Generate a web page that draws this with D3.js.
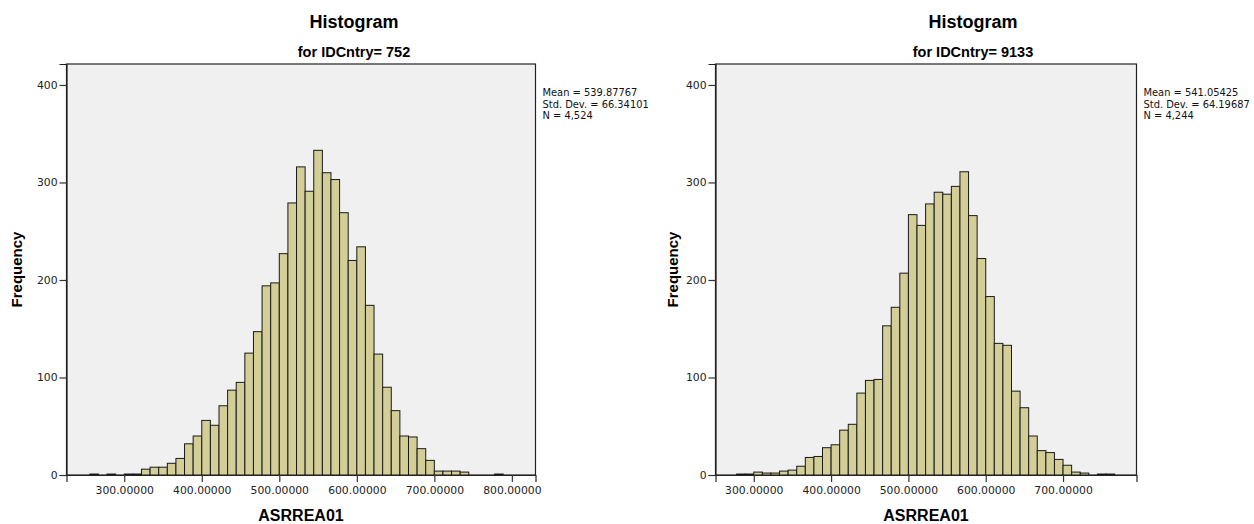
<!DOCTYPE html>
<html>
<head>
<meta charset="utf-8">
<script src="https://cdn.jsdelivr.net/npm/d3@7"></script>
<style>
  body { margin: 0; background: #fff; }
  svg { display: block; }
</style>
</head>
<body>
<svg id="canvas" width="1254" height="524"></svg>
<script>
// histogram bins: edge = BIN_ORIGIN + k * BIN_WIDTH
BIN_ORIGIN = 400;
BIN_WIDTH = 100 / 9;

// IDCntry = 752
firstBin752 = -13;
counts752 = [1, 0, 1, 0, 1, 1, 6, 8, 8, 12, 17, 32, 40,
  56, 51, 71, 87, 95, 125, 147, 194, 197, 227,
  279, 316, 291, 333, 310, 303, 269, 220, 234, 174,
  124, 90, 66, 40, 39, 27, 15, 4, 4, 4, 3, 0, 0, 0, 1];
stats752 = ["Mean = 539.87767", "Std. Dev. = 66.34101", "N = 4,524"];

// IDCntry = 9133
firstBin9133 = -11;
counts9133 = [1, 1, 3, 2, 2, 4, 5, 9, 18, 19, 28,
  31, 46, 52, 84, 97, 98, 153, 172, 207, 267,
  256, 278, 290, 288, 296, 311, 266, 222, 183, 135,
  133, 86, 69, 40, 25, 23, 16, 10, 3, 2, 0, 1, 1];
stats9133 = ["Mean = 541.05425", "Std. Dev. = 64.19687", "N = 4,244"];

xTicks752 = [300, 400, 500, 600, 700, 800];
xTicks9133 = [300, 400, 500, 600, 700];
yTicks = [0, 100, 200, 300, 400];

BAR_FILL = "#d3ce97";
PLOT_BG = "#f0f0f0";
BOLD = "'Liberation Sans', Arial, sans-serif";
SMALL = "'DejaVu Sans', sans-serif";

svg = d3.select("#canvas");

function makeBins(first, counts) {
  return counts.map(function (c, i) {
    var k = first + i;
    return { x0: BIN_ORIGIN + k * BIN_WIDTH, x1: BIN_ORIGIN + (k + 1) * BIN_WIDTH, n: c };
  });
}

function drawHistogram(opt) {
  var top = 64, bottom = 475;
  var x = d3.scaleLinear().domain(opt.xDomain).range(opt.xRange);
  var y = d3.scaleLinear().domain([0, 421.5]).range([bottom, top]);
  var g = svg.append("g").attr("clip-path", "url(#" + opt.clip + ")");

  svg.append("clipPath").attr("id", opt.clip)
    .append("rect").attr("x", opt.clipX[0]).attr("y", 0)
    .attr("width", opt.clipX[1] - opt.clipX[0]).attr("height", 524);

  // titles
  g.append("text").attr("x", opt.titleX).attr("y", 28)
    .attr("text-anchor", "middle").style("font-family", BOLD)
    .style("font-weight", "bold").style("font-size", "18px").text("Histogram");
  g.append("text").attr("x", opt.titleX).attr("y", 57)
    .attr("text-anchor", "middle").style("font-family", BOLD)
    .style("font-weight", "bold").style("font-size", "14.5px").text(opt.subtitle);

  // plot frame
  g.append("rect")
    .attr("x", opt.xRange[0]).attr("y", top)
    .attr("width", opt.xRange[1] - opt.xRange[0]).attr("height", bottom - top)
    .attr("fill", PLOT_BG).attr("stroke", "#222").attr("stroke-width", 1.2);

  var bins = makeBins(opt.first, opt.counts).filter(function (d) { return d.n > 0; });
  g.selectAll("rect.bar").data(bins).enter().append("rect")
    .attr("class", "bar")
    .attr("x", function (d) { return x(d.x0); })
    .attr("width", function (d) { return x(d.x1) - x(d.x0); })
    .attr("y", function (d) { return y(d.n); })
    .attr("height", function (d) { return y(0) - y(d.n); })
    .attr("fill", BAR_FILL).attr("stroke", "#1a1a1a").attr("stroke-width", 1);

  // axes
  var ya = g.append("g").attr("transform", "translate(" + opt.xRange[0] + ",0)")
    .call(d3.axisLeft(y).tickValues(yTicks).tickSize(7).tickPadding(2).tickFormat(d3.format("d")));
  var xa = g.append("g").attr("transform", "translate(0," + bottom + ")")
    .call(d3.axisBottom(x).tickValues(opt.xTicks).tickSize(7).tickPadding(4).tickFormat(d3.format(".5f")));
  [ya, xa].forEach(function (a) {
    a.select(".domain").attr("stroke", "#222").attr("stroke-width", 1.2);
    a.selectAll(".tick line").attr("stroke", "#333").attr("stroke-width", 1.2);
    a.selectAll(".tick text").style("font-family", SMALL).style("font-size", "10.8px").attr("fill", "#222");
  });

  g.append("text")
    .attr("transform", "translate(" + opt.yLabelX + "," + (top + bottom) / 2 + ") rotate(-90)")
    .attr("text-anchor", "middle").attr("dy", "0.35em")
    .style("font-family", BOLD).style("font-weight", "bold").style("font-size", "15px")
    .text("Frequency");
  g.append("text")
    .attr("x", (opt.xRange[0] + opt.xRange[1]) / 2).attr("y", 521)
    .attr("text-anchor", "middle")
    .style("font-family", BOLD).style("font-weight", "bold").style("font-size", "16px")
    .text("ASRREA01");

  // summary statistics
  g.selectAll("text.stat").data(opt.stats).enter().append("text")
    .attr("class", "stat")
    .attr("x", opt.xRange[1] + 7)
    .attr("y", function (d, i) { return 96 + i * 11.5; })
    .style("font-family", SMALL).style("font-size", "9.9px").attr("fill", "#111")
    .text(function (d) { return d; });
}

drawHistogram({
  clip: "clipA", clipX: [0, 648],
  first: firstBin752, counts: counts752, stats: stats752,
  subtitle: "for IDCntry= 752", titleX: 354, yLabelX: 17,
  xDomain: [225.5, 830.5], xRange: [66.5, 535.5], xTicks: xTicks752
});
drawHistogram({
  clip: "clipB", clipX: [648, 1254],
  first: firstBin9133, counts: counts9133, stats: stats9133,
  subtitle: "for IDCntry= 9133", titleX: 973, yLabelX: 673,
  xDomain: [250.5, 795], xRange: [715.5, 1136.5], xTicks: xTicks9133
});
</script>
</body>
</html>
